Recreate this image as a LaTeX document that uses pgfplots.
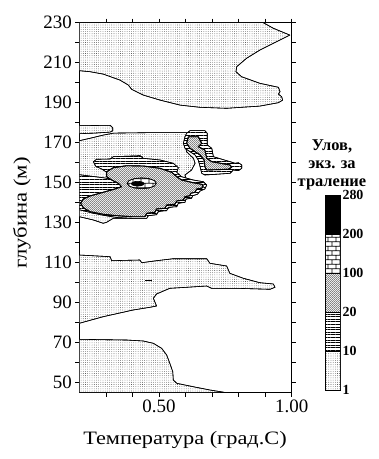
\documentclass[border=0pt]{standalone}
\usepackage{pgfplots}
\pgfplotsset{compat=1.18}
\usetikzlibrary{patterns,patterns.meta}
\usepackage{graphicx}
\usepackage{fontspec}
\setmainfont{Liberation Serif}
\pgfdeclarepatternformonly{smallbricks}{\pgfqpoint{0pt}{0pt}}{\pgfqpoint{8pt}{9pt}}{\pgfqpoint{8pt}{9pt}}{%
 \pgfsetlinewidth{0.8pt}%
 \pgfpathmoveto{\pgfqpoint{0pt}{2.25pt}}\pgfpathlineto{\pgfqpoint{8pt}{2.25pt}}%
 \pgfpathmoveto{\pgfqpoint{0pt}{6.75pt}}\pgfpathlineto{\pgfqpoint{8pt}{6.75pt}}%
 \pgfpathmoveto{\pgfqpoint{2pt}{2.25pt}}\pgfpathlineto{\pgfqpoint{2pt}{6.75pt}}%
 \pgfpathmoveto{\pgfqpoint{6pt}{6.75pt}}\pgfpathlineto{\pgfqpoint{6pt}{9pt}}%
 \pgfpathmoveto{\pgfqpoint{6pt}{0pt}}\pgfpathlineto{\pgfqpoint{6pt}{2.25pt}}%
 \pgfusepath{stroke}}
\pgfdeclarepatternformonly{densecheck}{\pgfqpoint{0pt}{0pt}}{\pgfqpoint{2.4pt}{2.4pt}}{\pgfqpoint{2.4pt}{2.4pt}}{%
 \pgfpathrectangle{\pgfqpoint{0pt}{0pt}}{\pgfqpoint{0.85pt}{0.85pt}}%
 \pgfpathrectangle{\pgfqpoint{1.2pt}{1.2pt}}{\pgfqpoint{0.85pt}{0.85pt}}%
 \pgfusepath{fill}}
\pgfplotsset{
 levA/.style={draw=black, line width=0.6pt, fill=white, postaction={pattern={Dots[distance=2.2pt,radius=0.32pt]}}},
 levB/.style={draw=black, line width=0.6pt, fill=white, postaction={pattern={Lines[angle=0,distance=2.6pt,line width=0.45pt]}}},
 levC/.style={draw=black, line width=0.9pt, fill=white, postaction={pattern=densecheck}},
 levD/.style={draw=black, line width=0.6pt, fill=white, postaction={pattern=smallbricks}},
 levE/.style={draw=black, line width=0.6pt, fill=black},
}
\begin{document}
\begin{tikzpicture}[x=1bp,y=1bp]
\path[use as bounding box] (0,0) rectangle (378,-459);
\begin{axis}[
 at={(79.3bp,-392.7bp)}, anchor=south west, scale only axis,
 width=212.4bp, height=370bp,
 xmin=0.2, xmax=1.0, ymin=45, ymax=230,
 xtick={0.5,1.0}, xticklabels={0.50,1.00},
 minor xtick={0.3,0.4,0.6,0.7,0.8,0.9},
 ytick={50,70,...,230}, minor ytick={60,80,...,220},
 tick pos=both, xticklabel pos=lower, yticklabel pos=left,
 tick align=outside,
 major tick length=4bp, minor tick length=4bp,
 tick style={black, line width=0.5pt},
 ticklabel style={font=\fontsize{19}{19}\selectfont},
 /pgf/number format/assume math mode=true,
 axis line style={line width=0.6pt},
 no marks,
 every axis plot/.append style={line join=round},
]
% top dotted region
\addplot[levA] coordinates {(0.2,230) (0.893,230) (0.931,227.2) (0.993,223.8) (0.943,220.5) (0.880,216.3) (0.830,212.2) (0.793,208) (0.790,205.5) (0.811,203) (0.880,199.7) (0.950,197.7) (0.956,195.5) (0.950,194.3) (0.962,193) (0.966,191.3) (0.950,190) (0.880,188.3) (0.755,187.2) (0.654,187.7) (0.579,188.8) (0.504,191.3) (0.441,193.8) (0.397,196.7) (0.385,198.8) (0.353,201.3) (0.290,204.3) (0.240,205.5) (0.2,206) (0.2,230)};
% middle dotted region
\addplot[levA] coordinates {(0.2,178.5) (0.316,178.7) (0.326,177.5) (0.326,175.9) (0.316,175.3) (0.26,174.8) (0.2,174.5) (0.2,171) (0.24,172.2) (0.29,173.8) (0.33,174.8) (0.45,175) (0.604,175) (0.61,172) (0.60,168) (0.604,165.5) (0.630,162.2) (0.636,159.7) (0.623,156.35) (0.598,153.85) (0.604,151.35) (0.636,148.85) (0.66,148) (0.62,143) (0.55,138) (0.45,133) (0.391,132.2) (0.328,132.2) (0.303,130.2) (0.290,129.7) (0.253,131.35) (0.2,133) (0.2,178.5)};
% L-shaped structure
\addplot[levB] coordinates {(0.604,174.7) (0.617,176.0) (0.673,176.0) (0.682,174.7) (0.682,168.9) (0.699,167.2) (0.705,163.0) (0.768,160.5) (0.787,159.7) (0.799,160.0) (0.812,158.85) (0.812,157.2) (0.799,156.0) (0.780,156.35) (0.768,154.7) (0.730,154.35) (0.673,153.85) (0.661,154.7) (0.655,158.0) (0.648,161.35) (0.636,163.85) (0.617,165.5) (0.598,167.2) (0.592,169.7) (0.598,173.0) (0.604,174.7)};
\addplot[levC] coordinates {(0.611,173.0) (0.648,173.0) (0.661,169.7) (0.648,168.0) (0.673,166.35) (0.680,162.2) (0.699,160.5) (0.768,158.85) (0.774,157.7) (0.761,156.7) (0.680,156.35) (0.673,158.0) (0.670,161.35) (0.655,163.85) (0.636,165.5) (0.617,167.2) (0.604,169.7) (0.611,173.0)};
% main structure: 10-20 band
\addplot[levB] coordinates {(0.253,160.5) (0.265,161.7) (0.316,161.85) (0.328,163.0) (0.429,163.5) (0.441,162.2) (0.504,161.35) (0.554,159.7) (0.573,157.5) (0.567,155.2) (0.585,153.0) (0.629,151.35) (0.667,150.5) (0.680,148.85) (0.673,146.85) (0.655,145.85) (0.645,144.2) (0.627,143.5) (0.623,142.2) (0.602,141.85) (0.598,140.2) (0.573,139.7) (0.567,138.0) (0.535,137.7) (0.529,136.0) (0.498,135.7) (0.491,134.0) (0.460,133.5) (0.454,132.2) (0.397,132.2) (0.341,132.6) (0.30,133.5) (0.25,134.8) (0.2,136.5) (0.2,154) (0.30,152.3) (0.34,151) (0.30,155.5) (0.285,156.8) (0.262,158.2) (0.253,160.5)};
% main structure: 20-100
\addplot[levC] coordinates {(0.303,155.5) (0.328,157.5) (0.378,158.5) (0.441,158.35) (0.504,157.2) (0.548,155.2) (0.567,153.0) (0.585,151.35) (0.629,150.0) (0.661,149.2) (0.667,148.35) (0.661,147.2) (0.642,146.85) (0.636,145.2) (0.619,144.7) (0.617,143.5) (0.598,143.0) (0.592,141.35) (0.567,140.85) (0.560,139.2) (0.529,138.85) (0.523,137.2) (0.491,136.85) (0.485,135.2) (0.454,134.7) (0.447,133.0) (0.397,133.0) (0.341,133.5) (0.290,134.2) (0.240,135.5) (0.215,137.5) (0.205,139.7) (0.215,141.85) (0.240,143.35) (0.290,145.2) (0.334,146.85) (0.359,148.0) (0.347,149.7) (0.322,151.35) (0.303,153.0) (0.303,155.5)};
% 100-200
\addplot[levD] coordinates {(0.490,149.7) (0.483,151.05) (0.4625,152.04) (0.435,152.4) (0.4075,152.04) (0.387,151.05) (0.380,149.7) (0.387,148.35) (0.4075,147.36) (0.435,147.0) (0.4625,147.36) (0.483,148.35) (0.490,149.7)};
% 200-280
\addplot[levE] coordinates {(0.444,149.5) (0.4408,150.1) (0.432,150.54) (0.42,150.7) (0.408,150.54) (0.3992,150.1) (0.396,149.5) (0.3992,148.9) (0.408,148.46) (0.42,148.3) (0.432,148.46) (0.4408,148.9) (0.444,149.5)};
% dotted region 80-113
\addplot[levA] coordinates {(0.2,113.85) (0.316,113.0) (0.322,111.0) (0.428,111.35) (0.435,110.0) (0.491,111.0) (0.554,112.0) (0.680,112.0) (0.692,109.7) (0.755,108.35) (0.767,104.7) (0.818,102.2) (0.880,100.0) (0.931,99.35) (0.937,97.7) (0.918,96.7) (0.793,97.2) (0.698,97.2) (0.680,98.35) (0.604,97.7) (0.541,97.2) (0.491,94.35) (0.479,92.2) (0.491,88.35) (0.466,87.7) (0.403,86.35) (0.290,83.0) (0.2,79.7) (0.2,113.85)};
\addplot[black, line width=0.8pt] coordinates {(0.447,101.35) (0.472,101.35)};
% bottom dotted region
\addplot[levA] coordinates {(0.2,71.7) (0.378,71.35) (0.441,70.85) (0.479,69.7) (0.510,67.2) (0.529,63.85) (0.541,59.7) (0.552,55.5) (0.554,51.35) (0.567,49.7) (0.629,48.0) (0.692,46.35) (0.755,45.0) (0.2,45) (0.2,71.7)};
\end{axis}
% legend bar
\begin{axis}[
 at={(325bp,-390bp)}, anchor=south west, scale only axis,
 width=15bp, height=195bp,
 xmin=0, xmax=1, ymin=0, ymax=5,
 xtick=\empty, ytick={0,1,2,3,4,5},
 yticklabels={1,10,20,100,200,280},
 yticklabel pos=right, major tick length=0pt,
 yticklabel style={font=\bfseries\fontsize{14}{14}\selectfont, xshift=-1bp},
 axis line style={line width=0.6pt},
 no marks,
]
\addplot[levA] coordinates {(0,0) (1,0) (1,1) (0,1) (0,0)};
\addplot[levB] coordinates {(0,1) (1,1) (1,2) (0,2) (0,1)};
\addplot[levC, line width=0.6pt] coordinates {(0,2) (1,2) (1,3) (0,3) (0,2)};
\addplot[levD] coordinates {(0,3) (1,3) (1,4) (0,4) (0,3)};
\addplot[levE] coordinates {(0,4) (1,4) (1,5) (0,5) (0,4)};
\end{axis}
\node[align=center, font=\bfseries\fontsize{16.5}{18}\selectfont] at (332,-165) {Улов,\\экз. за\\траление};
\node at (185,-440) {\scalebox{1.18}[1]{\fontsize{19}{19}\selectfont Температура (град.С)}};
\node[rotate=90] at (22,-213) {\scalebox{1.2}[1]{\fontsize{19}{19}\selectfont глубина (м)}};
\end{tikzpicture}
\end{document}
